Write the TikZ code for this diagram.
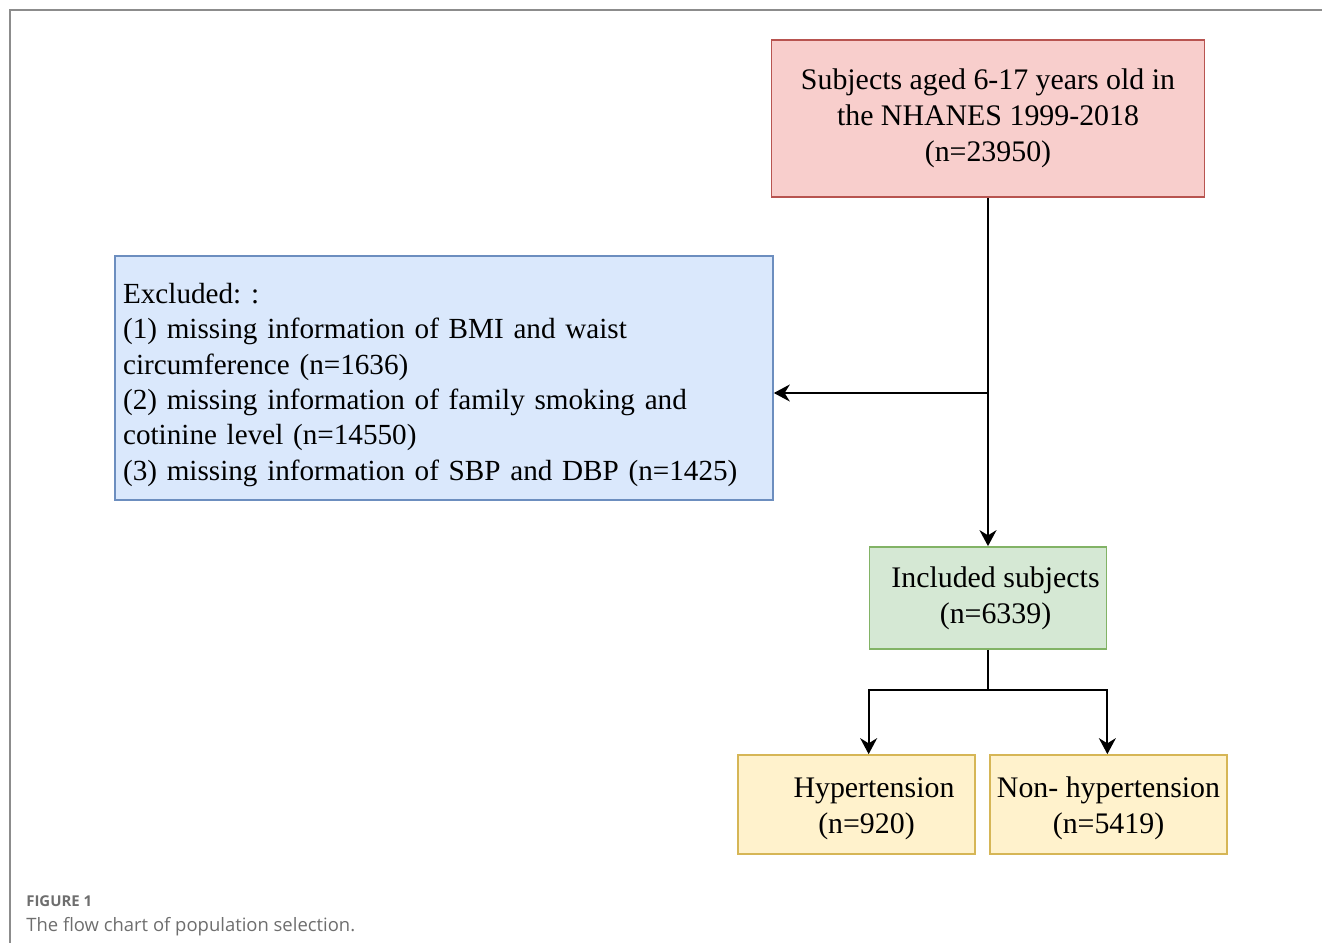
\documentclass[tikz,border=0pt]{standalone}
\usepackage{fontspec}
\setmainfont{Liberation Serif}
\newfontfamily\capfont{Open Sans}
\usepackage{tikz}
\usetikzlibrary{positioning}
\usetikzlibrary{arrows.meta}
\definecolor{redfill}{HTML}{F8CECC}
\definecolor{redline}{HTML}{B85450}
\definecolor{bluefill}{HTML}{DAE8FC}
\definecolor{blueline}{HTML}{6C8EBF}
\definecolor{greenfill}{HTML}{D5E8D4}
\definecolor{greenline}{HTML}{82B366}
\definecolor{yellowfill}{HTML}{FFF2CC}
\definecolor{yellowline}{HTML}{D6B656}
\definecolor{framegray}{HTML}{8C8C8C}
\definecolor{capgray}{HTML}{6E6E6E}
\tikzset{box/.style = {rectangle, line width=1pt, inner sep=0, align=center,
    font=\frenchspacing\fontsize{17}{20.4}\selectfont}}
\tikzset{redbox/.style = {box, draw=redline, fill=redfill}}
\tikzset{bluebox/.style = {box, draw=blueline, fill=bluefill, font=\frenchspacing\fontsize{16.6}{20.1}\selectfont}}
\tikzset{greenbox/.style = {box, draw=greenline, fill=greenfill}}
\tikzset{yellowbox/.style = {box, draw=yellowline, fill=yellowfill}}
\tikzset{arr/.style = {line width=1.1pt, -{Stealth[length=0.32cm, width=0.34cm]}}}
\tikzset{every picture/.style={x=0.02cm, y=-0.02cm}}

\begin{document}
\begin{tikzpicture}
    \useasboundingbox (0,0) rectangle (1322,943);
    \draw[framegray, line width=0.8pt] (10,943) -- (10,10) -- (1322,10);

    \node[redbox, minimum width=8.66cm, minimum height=3.14cm] (total) at (988,118.5)
        {Subjects aged 6-17 years old in\\the NHANES 1999-2018\\(n=23950)};
    \node[bluebox, minimum width=13.16cm, minimum height=4.88cm, text width=12.84cm, align=left] (excl) at (444,378)
        {\rule{0pt}{19.3pt}Excluded: :\\(1) missing information of BMI and waist\\circumference (n=1636)\\(2) missing information of family smoking and\\cotinine level (n=14550)\\(3) missing information of SBP and DBP (n=1425)};
    \node[greenbox, minimum width=4.74cm, minimum height=2.04cm] (incl) at (988,598)
        {\hspace{0.3cm}Included subjects\\\hspace{0.3cm}(n=6339)};
    \node[yellowbox, minimum width=4.74cm, minimum height=1.98cm] (hyp) at (856.5,804.5)
        {\rule{0pt}{16pt}\hspace{0.7cm}Hypertension\\\hspace{0.4cm}(n=920)};
    \node[yellowbox, minimum width=4.74cm, minimum height=1.98cm] (nonhyp) at (1108.5,804.5)
        {\rule{0pt}{16pt}Non- hypertension\\(n=5419)};

    \coordinate (split) at (988,393);
    \coordinate (fork) at (988,690);
    \draw[arr] (total.south) -- (incl.north);
    \draw[arr] (split) -- (excl.east |- split);
    \draw[line width=1.1pt] (incl.south) -- (fork);
    \draw[arr] (fork) -| (incl.west |- hyp.north);
    \draw[arr] (fork) -| (incl.east |- nonhyp.north);

    \node[anchor=base west, inner sep=0, text=capgray, font=\capfont\fontsize{8.5}{10}\selectfont\bfseries] (fignum) at (26,906) {FIGURE 1};
    \node[anchor=base west, inner sep=0, text=capgray, font=\capfont\fontsize{10.5}{12}\selectfont] (figcap) at (26,931) {The flow chart of population selection.};
\end{tikzpicture}
\end{document}
